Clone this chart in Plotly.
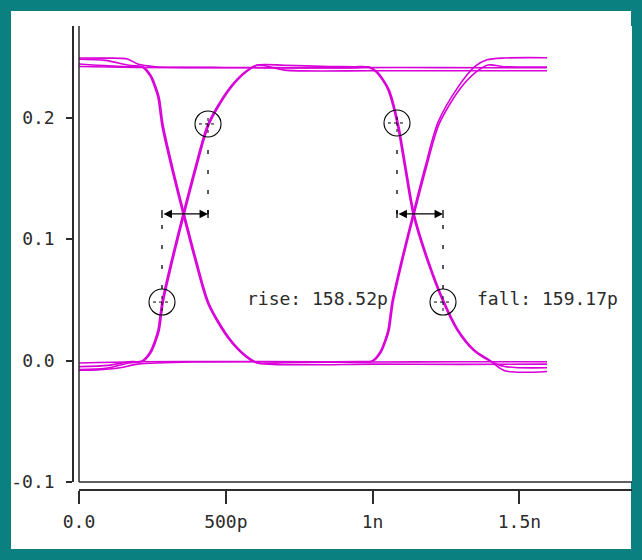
import plotly.graph_objects as go

# ---------------- data (time in ns, voltage in V) ----------------
X_TICK_VALS = [0.0, 0.5, 1.0, 1.5]
X_TICK_TEXT = ["0.0", "500p", "1n", "1.5n"]
Y_TICK_VALS = [-0.1, 0.0, 0.1, 0.2]
Y_TICK_TEXT = ["-0.1", "0.0", "0.1", "0.2"]

# edge shapes
EDGE1_T = [0.2146, 0.2418, 0.2588, 0.2691, 0.2827, 0.3167, 0.3542, 0.3951, 0.4393, 0.5075, 0.5654, 0.6062]
EDGE1B_T = [0.2190, 0.2462, 0.2632, 0.2735, 0.2871, 0.3211, 0.3586, 0.3995, 0.4437, 0.5119, 0.5698, 0.6106]
RISE1_V = [-0.0004, 0.0070, 0.0169, 0.0251, 0.0482, 0.0844, 0.1206, 0.1585, 0.1947, 0.2227, 0.2375, 0.2432]
FALL1_V = [0.2416, 0.2342, 0.2243, 0.2161, 0.1930, 0.1568, 0.1206, 0.0827, 0.0465, 0.0185, 0.0037, -0.0020]
RISE2_T = [0.9980, 1.0252, 1.0422, 1.0525, 1.0661, 1.1001, 1.1376, 1.1785, 1.2227, 1.2909, 1.3488, 1.3896]
RISE2B_T = [1.0020, 1.0292, 1.0462, 1.0565, 1.0701, 1.1041, 1.1416, 1.1825, 1.2267, 1.2949, 1.3528, 1.3936]
RISE2_HI_V = [-0.0004, 0.0070, 0.0169, 0.0251, 0.0482, 0.0844, 0.1206, 0.1590, 0.1960, 0.2250, 0.2420, 0.2475]
FALL2_T = [0.9843, 1.0116, 1.0354, 1.0525, 1.0831, 1.1104, 1.1376, 1.1853, 1.2398, 1.2875, 1.3420, 1.3930]
FALL2B_T = [0.9883, 1.0156, 1.0394, 1.0565, 1.0871, 1.1144, 1.1416, 1.1893, 1.2438, 1.2915, 1.3460, 1.3970]
FALL2_V = [0.2416, 0.2375, 0.2301, 0.2227, 0.1955, 0.1576, 0.1206, 0.0827, 0.0482, 0.0251, 0.0087, 0.0004]

# full traces
HHH_T = [0.000, 0.080, 0.165, 0.200, 0.260, 0.500, 0.800, 1.100, 1.400, 1.594]
HHH_V = [0.2490, 0.2489, 0.2482, 0.2440, 0.2418, 0.2412, 0.2410, 0.2411, 0.2410, 0.2410]
LLL_T = [0.000, 0.060, 0.140, 0.200, 0.400, 0.700, 1.000, 1.300, 1.594]
LLL_V = [-0.0080, -0.0078, -0.0060, -0.0030, -0.0012, -0.0010, -0.0012, -0.0010, -0.0010]

HLH_T = [0.000, 0.100, 0.170] + EDGE1_T + [0.700, 0.850, 0.950] + RISE2_T + [1.450, 1.594]
HLH_V = [0.2440, 0.2425, 0.2418] + FALL1_V + [-0.0018, -0.0015, -0.0012] + RISE2_HI_V + [0.2490, 0.2492]

LHL_T = [0.000, 0.100, 0.170] + EDGE1_T + [0.700, 0.850, 0.940] + FALL2_T + [1.450, 1.594]
LHL_V = [-0.0050, -0.0040, -0.0010] + RISE1_V + [0.2430, 0.2420, 0.2418] + FALL2_V + [-0.0050, -0.0060]

HLL_T = [0.000, 0.090, 0.170] + EDGE1B_T + [0.750, 1.000, 1.300, 1.594]
HLL_V = [0.2480, 0.2470, 0.2430] + FALL1_V + [-0.0035, -0.0030, -0.0032, -0.0030]

LHH_T = [0.000, 0.090, 0.170] + EDGE1B_T + [0.700, 1.000, 1.300, 1.594]
LHH_V = [-0.0075, -0.0065, -0.0020] + RISE1_V + [0.2390, 0.2385, 0.2385, 0.2385]

HHL_T = [0.000, 0.200, 0.500, 0.800, 0.950] + FALL2B_T + [1.450, 1.594]
HHL_V = [0.2420, 0.2412, 0.2410, 0.2408, 0.2410] + FALL2_V + [-0.0085, -0.0090]

LLH_T = [0.000, 0.200, 0.500, 0.800, 0.960] + RISE2B_T + [1.450, 1.594]
LLH_V = [-0.0020, -0.0010, -0.0008, -0.0010, -0.0008] + RISE1_V + [0.2418, 0.2415]

TRACES_T = [HHH_T, LLL_T, HLH_T, LHL_T, HLL_T, LHH_T, HHL_T, LLH_T]
TRACES_V = [HHH_V, LLL_V, HLH_V, LHL_V, HLL_V, LHH_V, HHL_V, LLH_V]

# measurement points (20% / 80%) and arrow level
RISE_MEAS_T = [0.2827, 0.4394]
RISE_MEAS_V = [0.0481, 0.1947]
FALL_MEAS_T = [1.0831, 1.2398]
FALL_MEAS_V = [0.1955, 0.0481]
CROSS_V = 0.1206
RISE_LABEL = "rise: 158.52p"
FALL_LABEL = "fall: 159.17p"
LABEL_T = [0.5654, 1.3488]
LABEL_V = 0.0514

# ---------------- geometry / style ----------------
W, H = 642, 560
ML, MR, MT, MB = 73, 10, 26, 70
PW, PH = W - ML - MR, H - MT - MB
TEAL = "#0b8080"
AXC = "#2b2b2b"
MAG = "#d800d8"
FONT = dict(family="DejaVu Sans Mono", size=18, color="#2b2b2b")
CIRC_R = 13
V_PER_PX = 0.1 / 121.5


def px_x(p):
    return (p - ML) / PW


def px_y(p):
    return (H - MB - p) / PH


fig = go.Figure()
for tt, vv in zip(TRACES_T, TRACES_V):
    fig.add_trace(go.Scatter(x=tt, y=vv, mode="lines",
                             line=dict(color=MAG, width=1.6, shape="spline", smoothing=0.8),
                             hoverinfo="skip"))

shapes = []
# white interior inside teal frame
shapes.append(dict(type="rect", xref="paper", yref="paper", layer="below",
                   x0=px_x(11), x1=px_x(631), y0=px_y(549), y1=px_y(11),
                   fillcolor="white", line=dict(width=0)))
# inner y-axis line and plot bottom line
shapes.append(dict(type="line", xref="x domain", yref="y domain", x0=0, x1=0, y0=0, y1=1,
                   line=dict(color=AXC, width=1.5)))
shapes.append(dict(type="line", xref="x domain", yref="y domain", x0=0, x1=1, y0=0, y1=0,
                   line=dict(color=AXC, width=1.5)))

circ_dv = CIRC_R * V_PER_PX
for tx, vy in zip(RISE_MEAS_T + FALL_MEAS_T, RISE_MEAS_V + FALL_MEAS_V):
    shapes.append(dict(type="circle", xref="x", yref="y", xsizemode="pixel", ysizemode="pixel",
                       xanchor=tx, yanchor=vy, x0=-CIRC_R, x1=CIRC_R, y0=-CIRC_R, y1=CIRC_R,
                       line=dict(color="black", width=1.1)))
    shapes.append(dict(type="line", xref="x", yref="y", xsizemode="pixel", ysizemode="pixel",
                       xanchor=tx, yanchor=vy, x0=-9, x1=9, y0=0, y1=0,
                       line=dict(color="black", width=1, dash="dot")))
    shapes.append(dict(type="line", xref="x", yref="y", xsizemode="pixel", ysizemode="pixel",
                       xanchor=tx, yanchor=vy, x0=0, x1=0, y0=-9, y1=9,
                       line=dict(color="black", width=1, dash="dot")))
    # dotted drop line to arrow level
    if vy < CROSS_V:
        y0, y1 = vy + circ_dv, CROSS_V
    else:
        y0, y1 = CROSS_V, vy - circ_dv
    shapes.append(dict(type="line", xref="x", yref="y", x0=tx, x1=tx, y0=y0, y1=y1,
                       line=dict(color="black", width=1.3, dash="4px,16px")))
    # small end bar at arrow level
    shapes.append(dict(type="line", xref="x", yref="y", ysizemode="pixel", yanchor=CROSS_V,
                       x0=tx, x1=tx, y0=-4, y1=4, line=dict(color="black", width=1.3)))

annotations = []
for pair in (RISE_MEAS_T, FALL_MEAS_T):
    annotations.append(dict(x=pair[1], y=CROSS_V, ax=pair[0], ay=CROSS_V,
                            xref="x", yref="y", axref="x", ayref="y", text="",
                            showarrow=True, arrowhead=2, startarrowhead=2, arrowside="end+start",
                            arrowsize=1.3, startarrowsize=1.3, arrowwidth=1.3, arrowcolor="black"))
for lab, tx in zip([RISE_LABEL, FALL_LABEL], LABEL_T):
    annotations.append(dict(x=tx, y=LABEL_V, xref="x", yref="y", text=lab, showarrow=False,
                            xanchor="left", yanchor="middle", font=FONT))

fig.update_layout(
    width=W, height=H,
    margin=dict(l=ML, r=MR, t=MT, b=MB, pad=0),
    paper_bgcolor=TEAL, plot_bgcolor="white",
    showlegend=False,
    shapes=shapes, annotations=annotations,
    xaxis=dict(domain=[px_x(79), 1], range=[0, 553 / 293.6], anchor="free", position=0,
               showline=True, linecolor=AXC, linewidth=1.5, ticks="outside", ticklen=13,
               tickwidth=1.5, tickcolor=AXC, tickvals=X_TICK_VALS, ticktext=X_TICK_TEXT,
               showgrid=False, zeroline=False, tickfont=FONT, ticklabelstandoff=3),
    yaxis=dict(domain=[px_y(482), 1], range=[-0.1, -0.1 + 456 / 1215], anchor="free", position=0,
               showline=True, linecolor=AXC, linewidth=1.5, ticks="outside", ticklen=6,
               tickwidth=1.5, tickcolor=AXC, tickvals=Y_TICK_VALS, ticktext=Y_TICK_TEXT,
               showgrid=False, zeroline=False, tickfont=FONT, ticklabelstandoff=8),
)

fig.write_html(
    "out.html",
    config={"displayModeBar": False},
    post_script="document.body.style.margin='0';document.body.style.background='" + TEAL + "';",
)
